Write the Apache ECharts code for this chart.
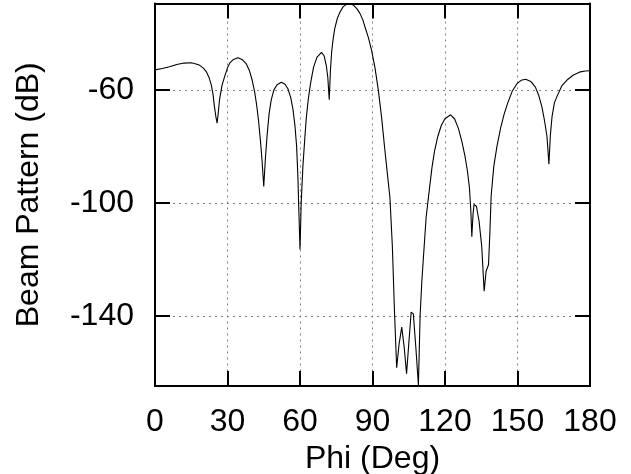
<!DOCTYPE html>
<html>
<head>
<meta charset="utf-8">
<script src="https://cdn.jsdelivr.net/npm/echarts@6.0.0/dist/echarts.min.js"></script>
<style>
html, body { margin: 0; padding: 0; background: #fff; }
#chart { width: 631px; height: 474px; }
</style>
</head>
<body>
<div id="chart"></div>
<script>
// beam pattern: angle (deg) / level (dB)
var phiDeg = [
	0, 3, 6, 9, 12, 15, 17, 18.5, 20, 21.2, 22.3, 23.3, 24, 24.6, 25.2, 25.7, 26.2, 26.7, 27.7, 28.8,
	30, 31, 32.5, 34.3, 36, 37.8, 39, 40.2, 41.2, 42, 42.8, 43.6, 44.3, 45, 45.7, 46.4, 47.2, 48.1, 49.2, 50.5,
	52.3, 53.8, 55, 56.2, 57.1, 57.9, 58.6, 59.1, 59.5, 60, 60.5, 61.2, 62, 62.6, 63.4, 64.4, 65.6, 67, 68.9, 70,
	70.9, 71.5, 72.1, 72.6, 73.1, 73.7, 74.4, 75.4, 76.5, 77.8, 79.2, 80.6, 82, 83.5, 84.8, 86, 87, 88.3, 89.6, 91,
	92.4, 93.8, 95.1, 96.2, 97.2, 98.2, 99.1, 100, 101, 102.1, 103.1, 104.1, 105, 106, 106.9, 108, 109, 109.7, 110.4, 111.1,
	112.2, 113.5, 114.6, 115.7, 117, 118.5, 120, 122.3, 124, 125.6, 127, 128.3, 129.3, 130.1, 130.7, 131.1, 131.6, 132, 133, 134.1,
	135.2, 136.2, 137, 138, 138.6, 139.1, 140.2, 141.5, 143, 144.5, 146, 147.8, 149.8, 151.5, 153.4, 155.5, 157.4, 158.8, 160.1, 161.2,
	162.2, 163, 163.6, 164.3, 165.3, 166.4, 168.3, 170.5, 173, 176, 178, 180
];
var beamDb = [
	-52.9, -52.4, -51.8, -51.0, -50.5, -50.4, -50.8, -51.3, -52.3, -53.5, -55.5, -58.2, -61.5, -65.9, -69.5, -71.8, -68, -63.5, -58.5, -55.3,
	-52.2, -50.4, -49.2, -48.6, -49.2, -50.8, -53, -56.5, -60.5, -65, -70.5, -77.7, -85, -94.2, -84, -76, -68.5, -63.5, -60, -58.2,
	-57.3, -58.0, -59.6, -62.8, -67, -72.5, -80, -90, -102, -116.5, -100, -87, -77, -70, -63.5, -57.5, -52, -48.5, -46.7, -48,
	-51.5, -55.5, -63.5, -53, -46.5, -42, -38.2, -34.8, -32.5, -30.6, -29.7, -29.4, -29.9, -31.2, -32.9, -35.2, -38, -41.5, -45.9, -52,
	-60, -70, -81.2, -90, -98, -115, -138.5, -158.4, -150, -144, -151, -160.5, -150, -138.7, -139.3, -152, -164.5, -140, -128, -119,
	-105, -95.5, -87.5, -81.5, -76.5, -72.5, -70.2, -68.8, -70.3, -73.8, -78.3, -83.6, -88.8, -94.5, -103, -112, -104, -100.6, -101.2, -106.5,
	-115.4, -131.3, -124.2, -121.9, -110, -97.5, -87, -80, -73.5, -68.5, -64.5, -60.5, -57.8, -56.6, -56.2, -57, -59, -62, -66, -71,
	-76.5, -86.3, -76, -69.4, -64.5, -62.2, -58.6, -56.5, -54.8, -53.6, -53.3, -53.2
];
var yTicks = [-60, -100, -140];
var yMin = -164.85;
var yMax = -29.4;

var FONT = "'Liberation Sans', Arial, sans-serif";

function buildData() {
	var out = [];
	for (var i = 0; i < phiDeg.length; i++) {
		out.push([phiDeg[i], beamDb[i]]);
	}
	return out;
}

function gridDash() {
	return { color: '#7f7f7f', width: 1, type: [2, 4] };
}

function xAxisDef(top) {
	return {
		type: 'value',
		position: top ? 'top' : 'bottom',
		min: 0, max: 180, interval: 30,
		name: top ? '' : 'Phi (Deg)',
		nameLocation: 'middle',
		nameGap: 55,
		nameTextStyle: { color: '#000', fontSize: 32, fontFamily: FONT },
		axisLine: { show: true, onZero: false, lineStyle: { color: '#000', width: 2 } },
		axisTick: { show: true, inside: true, length: 15, lineStyle: { color: '#000', width: 2 } },
		axisLabel: { show: !top, color: '#000', fontSize: 32, fontFamily: FONT, margin: 20, showMinLabel: true, showMaxLabel: true },
		splitLine: { show: !top, lineStyle: gridDash() }
	};
}

function yAxisDef(right) {
	return {
		type: 'value',
		position: right ? 'right' : 'left',
		min: yMin, max: yMax,
		name: right ? '' : 'Beam Pattern (dB)',
		nameLocation: 'middle',
		nameGap: 110,
		nameTextStyle: { color: '#000', fontSize: 32, fontFamily: FONT },
		axisLine: { show: true, onZero: false, lineStyle: { color: '#000', width: 2 } },
		axisTick: { show: true, inside: true, length: 15, customValues: yTicks, lineStyle: { color: '#000', width: 2 } },
		axisLabel: { show: !right, customValues: yTicks, color: '#000', fontSize: 32, fontFamily: FONT, margin: 21 },
		splitLine: { show: !right, lineStyle: gridDash() }
	};
}

var chart = echarts.init(document.getElementById('chart'), null, { renderer: 'canvas' });

chart.setOption({
	animation: false,
	backgroundColor: '#fff',
	grid: { left: 155, right: 41, top: 3.5, bottom: 88, outerBoundsMode: 'none' },
	xAxis: [xAxisDef(false), xAxisDef(true)],
	yAxis: [yAxisDef(false), yAxisDef(true)],
	series: [{
		type: 'line',
		data: buildData(),
		showSymbol: false,
		smooth: false,
		lineStyle: { color: '#000', width: 1.1 },
		clip: true
	}]
});
</script>
</body>
</html>
